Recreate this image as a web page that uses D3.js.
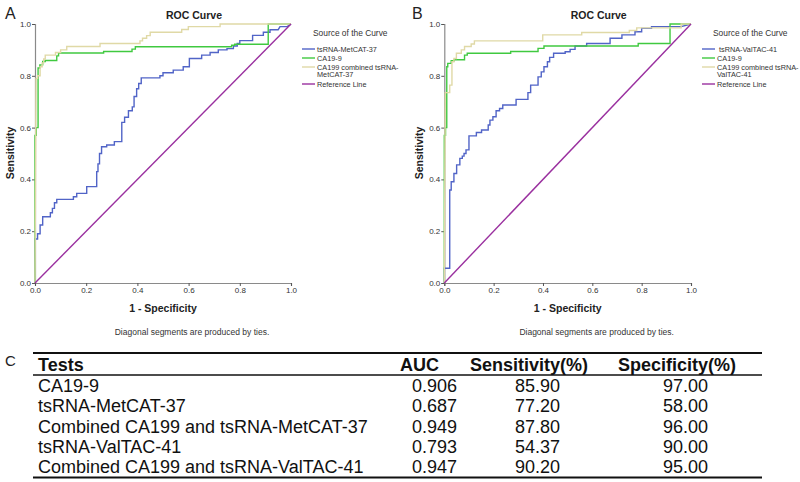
<!DOCTYPE html>
<html><head><meta charset="utf-8">
<script src="https://cdn.jsdelivr.net/npm/d3@7/dist/d3.min.js"></script>
<style>body{margin:0;background:#fff}svg{display:block;font-family:"Liberation Sans",Arial,sans-serif}</style>
</head><body><svg id="c" width="800" height="482"></svg>
<script>
// ---- Data ----
const ticks = [0, 0.2, 0.4, 0.6, 0.8, 1.0];
const seriesNamesA = ["tsRNA-MetCAT-37", "CA19-9", "CA199 combined tsRNA-|MetCAT-37", "Reference Line"];
const seriesNamesB = ["tsRNA-ValTAC-41", "CA19-9", "CA199 combined tsRNA-|ValTAC-41", "Reference Line"];
const colors = ["#5164c7", "#40c940", "#e0d9a6", "#9a309f"];

const blueA = [[0,0],[0,0.17],[0.01,0.17],[0.01,0.19],[0.02,0.19],[0.02,0.224],[0.03,0.224],[0.03,0.256],[0.06,0.256],[0.06,0.271],[0.068,0.271],[0.068,0.288],[0.076,0.288],[0.076,0.31],[0.085,0.31],[0.085,0.323],[0.15,0.323],[0.15,0.333],[0.163,0.333],[0.163,0.346],[0.202,0.346],[0.202,0.372],[0.241,0.372],[0.241,0.43],[0.246,0.43],[0.246,0.46],[0.252,0.46],[0.252,0.5],[0.26,0.5],[0.26,0.526],[0.28,0.526],[0.28,0.533],[0.31,0.533],[0.31,0.546],[0.339,0.546],[0.339,0.62],[0.35,0.62],[0.35,0.64],[0.365,0.64],[0.365,0.665],[0.38,0.665],[0.38,0.68],[0.387,0.68],[0.387,0.72],[0.397,0.72],[0.397,0.75],[0.405,0.75],[0.405,0.77],[0.415,0.77],[0.415,0.792],[0.488,0.792],[0.488,0.80],[0.50,0.80],[0.50,0.812],[0.54,0.812],[0.54,0.822],[0.579,0.822],[0.579,0.835],[0.603,0.835],[0.603,0.867],[0.651,0.867],[0.651,0.88],[0.684,0.88],[0.684,0.89],[0.716,0.89],[0.716,0.9],[0.75,0.9],[0.75,0.905],[0.775,0.905],[0.775,0.915],[0.79,0.915],[0.79,0.925],[0.80,0.925],[0.80,0.936],[0.85,0.936],[0.85,0.956],[0.892,0.956],[0.892,0.968],[0.918,0.968],[0.918,0.978],[0.95,0.978],[0.957,0.99],[0.985,0.99],[1,1]];
const greenA = [[0,0],[0,0.57],[0.005,0.57],[0.005,0.6],[0.012,0.6],[0.012,0.83],[0.019,0.83],[0.019,0.842],[0.03,0.842],[0.03,0.855],[0.04,0.855],[0.04,0.859],[0.085,0.859],[0.085,0.877],[0.092,0.877],[0.092,0.888],[0.268,0.888],[0.268,0.894],[0.379,0.894],[0.379,0.903],[0.392,0.903],[0.392,0.912],[0.768,0.912],[0.768,0.918],[0.78,0.918],[0.78,0.922],[0.911,0.922],[0.911,1],[1,1]];
const yellowA = [[0,0],[0.004,0.79],[0.01,0.79],[0.01,0.8],[0.02,0.8],[0.02,0.835],[0.028,0.835],[0.028,0.85],[0.034,0.85],[0.034,0.865],[0.04,0.865],[0.04,0.88],[0.08,0.88],[0.08,0.89],[0.1,0.89],[0.1,0.9],[0.124,0.9],[0.124,0.913],[0.254,0.913],[0.254,0.925],[0.41,0.925],[0.41,0.935],[0.42,0.935],[0.42,0.945],[0.436,0.945],[0.436,0.955],[0.45,0.955],[0.45,0.968],[0.573,0.968],[0.573,0.979],[0.599,0.979],[0.599,0.99],[0.723,0.99],[0.723,1],[1,1]];
const blueB = [[0,0],[0,0.057],[0.022,0.057],[0.022,0.359],[0.028,0.359],[0.028,0.391],[0.039,0.391],[0.039,0.423],[0.05,0.423],[0.05,0.456],[0.063,0.456],[0.063,0.481],[0.073,0.481],[0.073,0.49],[0.08,0.49],[0.08,0.5],[0.088,0.5],[0.088,0.514],[0.1,0.514],[0.1,0.568],[0.13,0.568],[0.13,0.581],[0.151,0.581],[0.151,0.591],[0.178,0.591],[0.178,0.61],[0.185,0.61],[0.185,0.629],[0.197,0.629],[0.197,0.642],[0.21,0.642],[0.21,0.665],[0.224,0.665],[0.224,0.674],[0.237,0.674],[0.237,0.687],[0.291,0.687],[0.291,0.709],[0.339,0.709],[0.339,0.735],[0.35,0.735],[0.35,0.764],[0.38,0.764],[0.38,0.796],[0.393,0.796],[0.393,0.815],[0.404,0.815],[0.404,0.835],[0.418,0.835],[0.418,0.854],[0.427,0.854],[0.427,0.871],[0.443,0.871],[0.443,0.887],[0.49,0.887],[0.49,0.893],[0.51,0.893],[0.51,0.902],[0.53,0.902],[0.53,0.915],[0.577,0.915],[0.577,0.925],[0.672,0.925],[0.672,0.945],[0.72,0.945],[0.72,0.958],[0.773,0.958],[0.773,0.97],[0.8,0.97],[0.8,0.983],[0.84,0.983],[0.84,0.99],[0.96,0.99],[1,1]];
const greenB = [[0,0],[0,0.57],[0.005,0.57],[0.005,0.6],[0.01,0.6],[0.01,0.835],[0.014,0.835],[0.014,0.848],[0.028,0.848],[0.028,0.858],[0.04,0.858],[0.04,0.862],[0.082,0.862],[0.082,0.88],[0.093,0.88],[0.093,0.887],[0.269,0.887],[0.269,0.894],[0.38,0.894],[0.38,0.906],[0.404,0.906],[0.404,0.915],[0.786,0.915],[0.786,0.925],[0.915,0.925],[0.915,1],[1,1]];
const yellowB = [[0,0],[0.004,0.735],[0.022,0.735],[0.022,0.764],[0.031,0.764],[0.031,0.854],[0.039,0.854],[0.039,0.867],[0.049,0.867],[0.049,0.887],[0.069,0.887],[0.069,0.9],[0.082,0.9],[0.082,0.913],[0.109,0.913],[0.109,0.923],[0.122,0.923],[0.122,0.935],[0.399,0.935],[0.399,0.958],[0.557,0.958],[0.557,0.967],[0.75,0.967],[0.75,0.975],[0.78,0.975],[0.78,0.985],[0.96,0.985],[0.96,1],[1,1]];
const refLine = [[0,0],[1,1]];

const tableHeader = ["Tests", "AUC", "Sensitivity(%)", "Specificity(%)"];
const tests = ["CA19-9", "tsRNA-MetCAT-37", "Combined CA199 and tsRNA-MetCAT-37", "tsRNA-ValTAC-41", "Combined CA199 and tsRNA-ValTAC-41"];
const auc = ["0.906", "0.687", "0.949", "0.793", "0.947"];
const sensitivity = ["85.90", "77.20", "87.80", "54.37", "90.20"];
const specificity = ["97.00", "58.00", "96.00", "90.00", "95.00"];

// ---- Drawing ----
const svg = d3.select("#c");

function panel(cfg) {
  const x = d3.scaleLinear().domain([0,1]).range([cfg.x0, cfg.x1]);
  const y = d3.scaleLinear().domain([0,1]).range([283, 24]);
  const g = svg.append("g");
  g.append("text").attr("x", cfg.letterX).attr("y", 19).attr("font-size", 16).attr("fill","#222").text(cfg.letter);
  g.append("text").attr("x", (cfg.x0+cfg.x1)/2 + 31).attr("y", 19).attr("text-anchor","middle")
    .attr("font-size", 10.5).attr("font-weight","bold").attr("fill","#222").text("ROC Curve");
  const ya = g.append("g").attr("transform", `translate(${cfg.x0},0)`)
    .call(d3.axisLeft(y).tickValues(ticks).tickFormat(d3.format(".1f")).tickSize(3).tickPadding(1));
  const xa = g.append("g").attr("transform", `translate(0,283)`)
    .call(d3.axisBottom(x).tickValues(ticks).tickFormat(d3.format(".1f")).tickSize(3).tickPadding(1));
  [ya, xa].forEach(a => {
    a.select(".domain").attr("stroke", "#8a8a8a").attr("stroke-width", 1.2);
    a.selectAll(".tick line").attr("stroke", "#555");
    a.selectAll(".tick text").attr("font-size", 8).attr("fill", "#333").attr("font-family", "Liberation Sans, Arial, sans-serif");
  });
  g.append("text").attr("transform", `translate(${cfg.x0-21},153) rotate(-90)`).attr("text-anchor","middle")
    .attr("font-size", 10.5).attr("font-weight","bold").attr("fill","#222").text("Sensitivity");
  g.append("text").attr("x", (cfg.x0+cfg.x1)/2).attr("y", 312).attr("text-anchor","middle")
    .attr("font-size", 10.5).attr("font-weight","bold").attr("fill","#222").text("1 - Specificity");
  g.append("text").attr("x", (cfg.x0+cfg.x1)/2 + 29).attr("y", 335).attr("text-anchor","middle")
    .attr("font-size", 8.5).attr("fill","#333").text("Diagonal segments are produced by ties.");
  const line = d3.line().x(d => x(d[0])).y(d => y(d[1]));
  cfg.series.forEach((s, i) => {
    g.append("path").datum(s).attr("d", line).attr("fill","none")
      .attr("stroke", colors[i]).attr("stroke-width", 1.4);
  });
  // legend
  const lg = g.append("g").attr("transform", `translate(${cfg.legX},0)`);
  lg.append("text").attr("x", 11).attr("y", 36).attr("font-size", 8.4).attr("fill","#333").text("Source of the Curve");
  const rowY = [49, 58, 67, 84];
  cfg.names.forEach((n, i) => {
    lg.append("line").attr("x1", 0).attr("x2", 13).attr("y1", rowY[i]).attr("y2", rowY[i])
      .attr("stroke", colors[i]).attr("stroke-width", 1.4);
    const t = lg.append("text").attr("x", 15 + (i===0 ? cfg.firstOff : 0)).attr("y", rowY[i] + 2.6)
      .attr("font-size", 7.3).attr("fill","#333");
    n.split("|").forEach((part, k) => {
      t.append("tspan").attr("x", 15 + (i===0 ? cfg.firstOff : 0)).attr("dy", k === 0 ? 0 : 7.5).text(part);
    });
  });
}

panel({letter:"A", letterX:5, x0:35, x1:291, legX:302, names:seriesNamesA, firstOff:0,
       series:[blueA, greenA, yellowA, refLine]});
panel({letter:"B", letterX:412, x0:444.3, x1:691, legX:702, names:seriesNamesB, firstOff:2,
       series:[blueB, greenB, yellowB, refLine]});

// ---- Table ----
const tg = svg.append("g");
tg.append("text").attr("x", 5).attr("y", 366).attr("font-size", 15).attr("fill","#222").text("C");
const rule = (yy, w) => tg.append("line").attr("x1", 33).attr("x2", 762).attr("y1", yy).attr("y2", yy)
  .attr("stroke", "#111").attr("stroke-width", w);
rule(353, 2.2); rule(375, 1.6); rule(477.5, 2.2);
const hx = [38, 400, 470, 618];
tableHeader.forEach((h, i) => {
  tg.append("text").attr("x", hx[i]).attr("y", 371).attr("font-size", 18).attr("font-weight","bold")
    .attr("fill","#111").text(h);
});
const cols = [[tests, 38], [auc, 412], [sensitivity, 515], [specificity, 663]];
tests.forEach((_, r) => {
  cols.forEach(([arr, cx]) => {
    tg.append("text").attr("x", cx).attr("y", 392 + r * 20.3).attr("font-size", 18)
      .attr("fill","#111").text(arr[r]);
  });
});
</script></body></html>
